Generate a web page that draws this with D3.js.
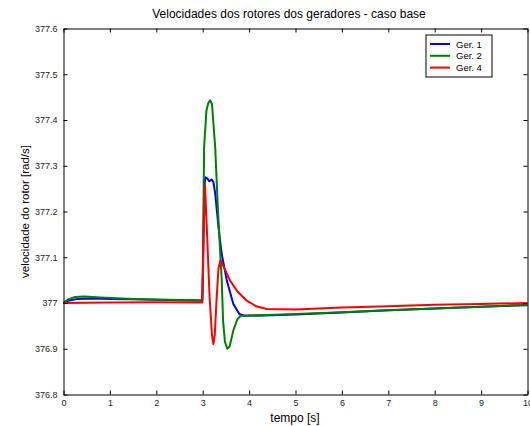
<!DOCTYPE html>
<html>
<head>
    <meta charset='utf-8'>
    <title>Velocidades dos rotores</title>
    <script type='text/javascript' src='https://cdn.jsdelivr.net/npm/d3@7'></script>
    <style>
        body { margin: 0; background: #fff; }
        text { font-family: 'Liberation Sans', Arial, sans-serif; }
    </style>
</head>
<body>
    <svg width='530' height='426'></svg>
    <script type='text/javascript'>

        // tempo [s] / velocidade [rad/s]
        const ger1 = [[0, 377.0], [0.1, 377.005], [0.3, 377.009], [0.6, 377.01], [1, 377.009], [1.5, 377.008],
        [2, 377.007], [2.5, 377.006], [2.99, 377.005], [3.01, 377.08], [3.03, 377.25], [3.06, 377.275],
        [3.1, 377.272], [3.14, 377.266], [3.19, 377.27], [3.23, 377.265], [3.27, 377.239], [3.34, 377.166],
        [3.41, 377.107], [3.52, 377.049], [3.66, 376.998], [3.79, 376.976], [3.9, 376.972], [4.5, 376.973],
        [5, 376.975], [6, 376.979], [7, 376.984], [8, 376.988], [9, 376.992], [10, 376.995]]

        const ger2 = [[0, 377.0], [0.1, 377.008], [0.25, 377.013], [0.45, 377.014], [0.8, 377.012], [1.5, 377.009],
        [2.2, 377.007], [2.99, 377.006], [3.0, 377.03], [3.03, 377.34], [3.08, 377.42], [3.12, 377.437],
        [3.16, 377.443], [3.2, 377.435], [3.27, 377.34], [3.33, 377.2], [3.41, 377.05], [3.44, 376.96],
        [3.48, 376.915], [3.53, 376.9], [3.58, 376.905], [3.66, 376.94], [3.75, 376.965], [3.82, 376.972],
        [4.4, 376.974], [5, 376.976], [6, 376.98], [7, 376.984], [8, 376.988], [9, 376.992], [10, 376.996]]

        const ger4 = [[0, 377.0], [1, 377.001], [2, 377.0015], [2.99, 377.001], [3.01, 377.12], [3.05, 377.257],
        [3.09, 377.16], [3.15, 377.01], [3.2, 376.93], [3.23, 376.91], [3.26, 376.93], [3.3, 377.01],
        [3.34, 377.075], [3.38, 377.093], [3.45, 377.08], [3.59, 377.049], [3.75, 377.025], [3.95, 377.005],
        [4.15, 376.993], [4.38, 376.987], [5, 376.986], [6, 376.99], [7, 376.993], [8, 376.996], [9, 376.998],
        [10, 377.0]]

        const series = [
            { name: 'Ger. 1', color: '#0000ff', values: ger1 },
            { name: 'Ger. 2', color: '#008000', values: ger2 },
            { name: 'Ger. 4', color: '#ff0000', values: ger4 }
        ]

        const xTicks = [0, 1, 2, 3, 4, 5, 6, 7, 8, 9, 10]
        const yTicks = [376.8, 376.9, 377, 377.1, 377.2, 377.3, 377.4, 377.5, 377.6]

        const svg = d3.select('svg')
        const mLeft = 63.5, mRight = 527.5, mTop = 28.5, mBottom = 394.5

        const x = d3.scaleLinear().domain([0, 10]).range([mLeft, mRight])
        const y = d3.scaleLinear().domain([376.8, 377.6]).range([mBottom, mTop])

        const line = d3.line()
            .x(d => x(d[0]))
            .y(d => y(d[1]))

        // curvas
        svg.append('g')
            .selectAll('path')
            .data(series)
            .join('path')
            .attr('fill', 'none')
            .attr('stroke', d => d.color)
            .attr('stroke-width', 2)
            .attr('stroke-linejoin', 'round')
            .attr('d', d => line(d.values))

        // eixos estilo MATLAB (ticks para dentro, caixa fechada)
        const fmt = d => String(+d.toFixed(1))
        svg.append('g').attr('transform', `translate(0,${mBottom})`)
            .call(d3.axisBottom(x).tickValues(xTicks).tickSizeInner(-4).tickSizeOuter(0).tickPadding(5).tickFormat(fmt))
        svg.append('g').attr('transform', `translate(0,${mTop})`)
            .call(d3.axisTop(x).tickValues(xTicks).tickSizeInner(-4).tickSizeOuter(0).tickFormat(''))
        svg.append('g').attr('transform', `translate(${mLeft},0)`)
            .call(d3.axisLeft(y).tickValues(yTicks).tickSizeInner(-4).tickSizeOuter(0).tickPadding(6).tickFormat(fmt))
        svg.append('g').attr('transform', `translate(${mRight},0)`)
            .call(d3.axisRight(y).tickValues(yTicks).tickSizeInner(-4).tickSizeOuter(0).tickFormat(''))

        svg.selectAll('.domain').attr('stroke', '#000')
        svg.selectAll('.tick line').attr('stroke', '#000')
        svg.selectAll('.tick text')
            .attr('fill', '#222')
            .style('font-family', "'Liberation Sans', Arial, sans-serif")
            .style('font-size', '9px')

        // títulos
        svg.append('text')
            .attr('x', 289).attr('y', 18)
            .attr('text-anchor', 'middle')
            .style('font-size', '12px')
            .text('Velocidades dos rotores dos geradores - caso base')

        svg.append('text')
            .attr('x', 295).attr('y', 422)
            .attr('text-anchor', 'middle')
            .style('font-size', '12px')
            .text('tempo [s]')

        svg.append('text')
            .attr('transform', `translate(29,${(mTop + mBottom) / 2}) rotate(-90)`)
            .attr('text-anchor', 'middle')
            .style('font-size', '11.5px')
            .text('velocidade do rotor [rad/s]')

        // legenda
        const lg = svg.append('g').attr('transform', 'translate(426,35)')
        lg.append('rect')
            .attr('width', 66).attr('height', 42)
            .attr('fill', '#fff').attr('stroke', '#000')
        const items = lg.selectAll('g.item')
            .data(series)
            .join('g')
            .attr('transform', (d, i) => `translate(0,${9 + i * 11.8})`)
        items.append('line')
            .attr('x1', 4).attr('x2', 24)
            .attr('stroke', d => d.color).attr('stroke-width', 2)
        items.append('text')
            .attr('x', 30).attr('y', 3.5)
            .style('font-size', '9.5px')
            .text(d => d.name)
    </script>
</body>
</html>
